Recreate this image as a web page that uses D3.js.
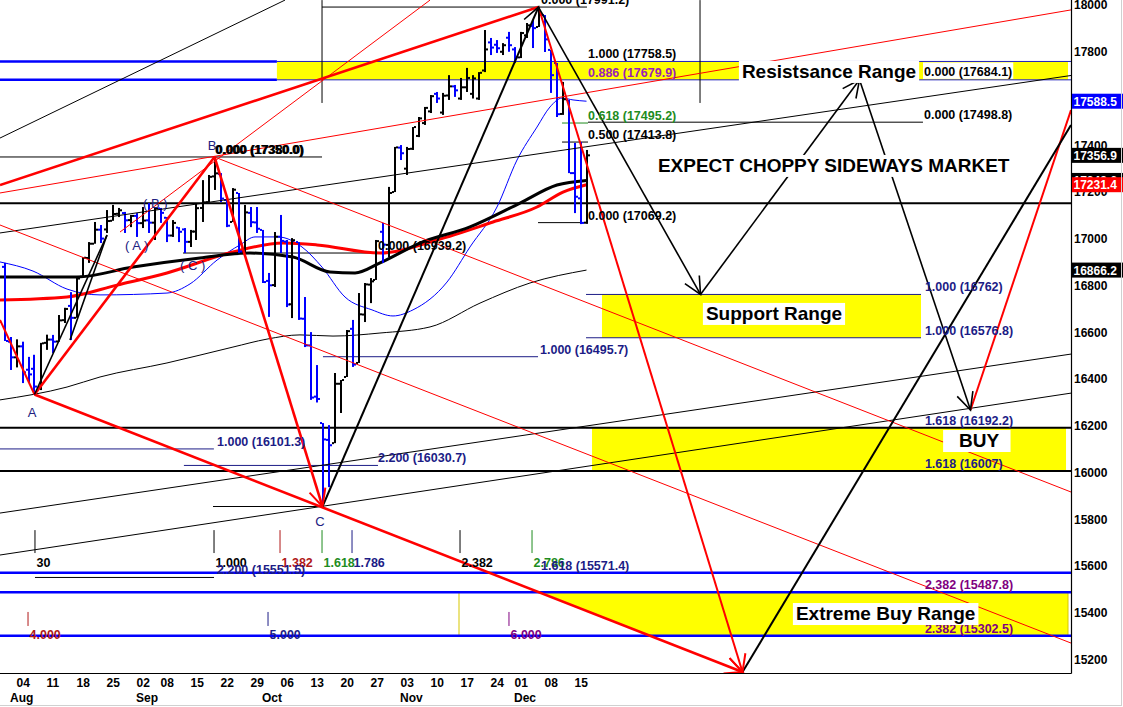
<!DOCTYPE html>
<html><head><meta charset="utf-8">
<script src="https://cdn.jsdelivr.net/npm/d3@7/dist/d3.min.js"></script>
<style>
html,body{margin:0;padding:0;background:#fff}
svg{display:block}
text{font-family:"Liberation Sans",Arial,Helvetica,sans-serif}
</style></head><body>
<svg id="chart" width="1123" height="707"></svg>
<script>
// ---------------- DATA ----------------
const dates=["07-31","08-01",
"08-04","08-05","08-06","08-07","08-08","08-11","08-12","08-13","08-14","08-15",
"08-18","08-19","08-20","08-21","08-22","08-25","08-26","08-27","08-28","08-29",
"09-02","09-03","09-04","09-05","09-08","09-09","09-10","09-11","09-12",
"09-15","09-16","09-17","09-18","09-19","09-22","09-23","09-24","09-25","09-26",
"09-29","09-30","10-01","10-02","10-03","10-06","10-07","10-08","10-09","10-10",
"10-13","10-14","10-15","10-16","10-17","10-20","10-21","10-22","10-23","10-24",
"10-27","10-28","10-29","10-30","10-31","11-03","11-04","11-05","11-06","11-07",
"11-10","11-11","11-12","11-13","11-14","11-17","11-18","11-19","11-20","11-21",
"11-24","11-25","11-26","11-28","12-01","12-02","12-03","12-04","12-05",
"12-08","12-09","12-10","12-11","12-12","12-15","12-16","12-17"];
const indexOffset=-2; // Aug 04 = index 0
const opens=[16880,16560,16493,16540,16440,16444,16368,16555,16569,16561,
16652,16713,16662,16838,16918,16979,17039,17040,17077,17107,
17110,17080,17098,17067,17079,17069,17130,17090,17014,17048,
17040,16987,17031,17132,17157,17267,17277,17166,17072,17196,
16947,17111,17070,17038,16820,16802,17009,16988,16720,16986,
16658,16544,16325,16212,16140,16126,16380,16409,16615,16469,
16676,16804,16824,17030,16974,17200,17390,17300,17385,17440,
17495,17545,17620,17540,17613,17652,17600,17648,17620,17600,
17720,17840,17830,17800,17860,17810,17776,17870,17910,17906,
17957,17808,17752,17534,17594,17281,17173,17069];
const highs=[16897,16580,16570,16560,16495,16504,16555,16590,16589,16674,
16705,16772,16837,16922,16986,17072,17059,17123,17145,17132,
17115,17102,17110,17136,17153,17136,17132,17093,17080,17050,
17046,17038,17153,17251,17273,17350,17281,17166,17217,17196,
17145,17136,17136,17038,16854,17029,17102,16995,17003,16986,
16751,16601,16460,16212,16203,16426,16396,16610,16653,16768,
16811,16832,16995,17068,17222,17393,17401,17393,17478,17521,
17564,17615,17628,17624,17700,17658,17688,17731,17700,17713,
17893,17859,17850,17837,17885,17820,17885,17923,17936,17991,
17957,17808,17752,17671,17594,17410,17414,17380];
const lows=[16563,16439,16450,16383,16383,16334,16353,16525,16511,16560,
16640,16567,16662,16837,16897,16979,16982,17025,17077,17093,
17025,17050,17008,17046,17025,16995,17068,16986,17008,16986,
16939,16965,16995,17072,17157,17209,17157,17050,17072,16939,
16939,17050,17025,16811,16666,16794,16939,16708,16661,16653,
16537,16311,16300,15855,15938,16126,16255,16409,16452,16469,
16644,16725,16824,16897,16922,17200,17337,17273,17380,17435,
17487,17538,17581,17530,17594,17607,17594,17628,17600,17594,
17713,17786,17795,17786,17800,17752,17773,17859,17816,17906,
17799,17624,17521,17530,17281,17110,17063,17064];
const closes=[16563,16493,16540,16429,16420,16368,16553,16569,16560,16651,
16700,16662,16830,16919,16979,17039,17001,17076,17106,17122,
17079,17098,17067,17078,17069,17130,17111,17014,17068,17030,
16987,17031,17131,17156,17265,17280,17172,17056,17210,16946,
17113,17071,17043,16815,16801,17009,16991,16719,16994,16659,
16544,16321,16315,16142,16117,16380,16396,16605,16462,16677,
16805,16818,16990,16975,17196,17391,17366,17384,17478,17515,
17560,17610,17600,17612,17652,17635,17648,17688,17686,17710,
17810,17818,17815,17828,17828,17776,17880,17913,17901,17959,
17853,17700,17533,17597,17281,17180,17068,17357];

const weekTicks=["08-04","08-11","08-18","08-25","09-02","09-08","09-15","09-22","09-29","10-06",
"10-13","10-20","10-27","11-03","11-10","11-17","11-24","12-01","12-08","12-15"];
const monthStarts=["08-01","09-02","10-01","11-03","12-01"];
const monthNames=["Aug","Sep","Oct","Nov","Dec"];
const yTicks=[15200,15400,15600,15800,16000,16200,16400,16600,16800,17000,17200,17400,17600,17800,18000];

// moving averages [index, value]
const maBlue=[[-2.75,16901],[2.75,16862],[8.42,16785],[13.92,16760],[25.08,16768],[28.92,16807],[33.42,16909],[37.25,16974],[39.75,17008],[43.58,17008],[47.58,16965],[50.92,16879],[54.75,16751],[59.25,16696],[62.75,16670],[66.08,16696],[71.75,16815],[75.58,16965],[80.08,17136],[83.42,17337],[86.75,17478],[88.92,17564],[90.92,17602],[92.75,17594],[95,17588.5]];
const maBlackThick=[[-2.75,16837],[10.08,16837],[19.42,16879],[30.58,16918],[38.92,16939],[46.08,16922],[52.25,16858],[56.42,16854],[60.58,16897],[67.25,16982],[75.58,17051],[83.92,17153],[90.08,17230],[95,17249.6]];
const maRed=[[-2.75,16738],[8.42,16751],[16.75,16802],[25.08,16854],[36.08,16944],[44.42,16982],[50.08,16974],[60.58,16939],[70.08,16995],[79.42,17072],[86.75,17136],[91.08,17200],[95,17231.4]];
const maBlackThin=[[-2.75,16311],[8.42,16366],[13.92,16409],[25.08,16469],[36.08,16537],[41.75,16571],[47.25,16589],[52.75,16584],[60.58,16597],[68.92,16623],[77.25,16725],[85.58,16811],[95,16866.2]];
const lastValues=[17588.5,17356.9,17249.6,17231.4,16866.2];
const lastValueKeys=["b","k","k","red","k"];

// pivots [index, price]
const pA=[3,16334], pB=[33,17350], pC=[51,15855], pP=[87,17991.2];
const pT1=[114,16762], pT2=[140.5,17680], pT3=[159,16268], pQ=[121,15147];
const lineRedThick=[[pA,pB],[pB,pC],[pA,pQ],[[-2.75,17230],pP]];
const lineRedMed=[[[-2.75,16653],pA],[pP,pQ],[pT3,[175.75,17551]]];
const lineRedThin=[[[-2.75,17196],[175.75,17979]],[[-2.75,17059],[175.75,15271]],[pB,[175.75,15917]],[[17.25,17029],[68.92,18021]]];
const lineBlackThick=[[pC,pP],[pQ,[175.75,17487]]];
const lineBlackMed=[[pP,pT1],[pT1,pT2],[pT2,pT3],[pA,[15.08,17016]],[[8.92,16567],[15.08,17016]]];
const lineBlackThin=[[[-2.75,17431],[44.75,18021]],[[-2.75,17025],[175.75,17698.5]],[[-2.75,15827],[175.75,16507]],[[-2.75,15647.5],[175.75,16340]]];
const arrowsK=[[pC,pP],[pP,pT1],[pT1,pT2],[pT2,pT3]];
const arrowsR=[[pB,pC],[pA,pQ],[pP,pQ]];

// horizontal levels
const hBlackThick=[17152,16192.2,16007];
const hBlueThick=[15571.4,15487.8,15302.5];
const hResLeft=[17758.5,17679.9];
const fibSegs=[ // value, from, to, color
[17991.2,50.92,95.08,"k"],[17350,-2.75,50.92,"k"],[16939.2,27.75,60.25,"k"],[15855,32.75,50.92,"k"],
[17069.2,86.92,95.25,"k"],[17413.8,90.92,95.25,"k"],[17498.8,95.25,151.08,"k"],[15551.5,3.08,32.92,"k"],
[17495.2,90.92,95.25,"g"],
[16101.3,-2.75,32.9,"n"],[16030.7,27.9,60.25,"n"],[16495.7,51.08,86.92,"n"],
[16762,94.92,150.75,"n"],[16576.8,94.92,150.75,"n"],[16192.2,94.92,151.08,"n"]];
const vLines=[[50.92,17581,18021],[113.92,17581,18021]];

// bands [low, high, from, to]
const bandRes=[17679.9,17758.5,43.4,175.25];
const bandSup=[16576.8,16762,97.58,150.75];
const bandBuy=[16007,16192.2,95.92,174.92];
const bandExt=[15302.5,15487.8,73.75,175.25];

const fibLabels=[
["0.000 (17991.2)",87.42,17991.2,"k"],["1.000 (17758.5)",95.25,17758.5,"k"],["0.886 (17679.9)",95.25,17679.9,"v"],
["0.618 (17495.2)",95.25,17495.2,"g"],["0.500 (17413.8)",95.25,17413.8,"k"],["0.000 (17069.2)",95.25,17069.2,"k"],
["0.000 (17498.8)",151.25,17498.8,"k"],
["1.000 (16762)",151.4,16762,"n"],["1.000 (16576.8)",151.4,16576.8,"n"],["1.618 (16192.2)",151.4,16192.2,"n"],
["1.618 (16007)",151.4,16007,"n"],["2.382 (15487.8)",151.4,15487.8,"p"],["2.382 (15302.5)",151.4,15302.5,"p"],
["1.000 (16495.7)",87.25,16495.7,"n"],["0.000 (16939.2)",60.25,16939.2,"k"],["1.000 (16101.3)",33.42,16101.3,"n"],
["2.200 (16030.7)",60.25,16030.7,"n"],["0.000 (17350.0)",33.08,17350,"k"],["0.000 (17380.0)",33.25,17350,"k"],
["1.618 (15571.4)",87.42,15571.4,"n"],["2.200 (15551.5)",33.42,15551.5,"n"]];
const whiteFibLabel=["0.000 (17684.1)",151.25,17684.1];

const timeMarks=[["30",3.08,1,"k"],["1.000",32.92,1,"k"],["1.382",43.92,1,"r"],["1.618",50.92,1,"g"],["1.786",55.92,1,"n"],
["2.382",73.92,1,"k"],["2.786",85.92,1,"g"],["4.000",1.92,2,"r"],["5.000",41.92,2,"n"],["6.000",82.08,2,"p"]];
const timeRows={1:[15754,15656],2:[15404,15344]};

const pointLabels=[["A",pA],["B",pB],["C",pC]];
const waveLabels=[["( A )",18.1,16952],["( B )",21.1,17132],["( C )",27.25,16867]];
const boxLabels=[["Resistsance Range",120.9,17688],["EXPECT CHOPPY SIDEWAYS MARKET",106.9,17286],
["Support Range",114.9,16653],["BUY",157.1,16109.5],["Extreme Buy Range",129.9,15369.5]];

// ---------------- DRAW ----------------
const COL={k:"#000",n:"#1c1c86",r:"#b01818",g:"#1e8c1e",p:"#800080",v:"#9a22b8",b:"#0000ff",red:"#ff0000"};
const FONT='"Liberation Sans",Arial,Helvetica,sans-serif';
const svg=d3.select("#chart");
const X=d3.scaleLinear().domain([-2.75,175.75]).range([0,1071]);
const Y=d3.scaleLinear().domain([15142.9,18021.4]).range([673,0]);
const P=p=>[X(p[0]),Y(p[1])];
svg.append("rect").attr("width",1123).attr("height",707).attr("fill","#fff");
svg.append("defs").append("clipPath").attr("id","plot").append("rect").attr("width",1071).attr("height",673);
const plot=svg.append("g").attr("clip-path","url(#plot)");

function seg(g,a,b,color,w){
  g.append("line").attr("x1",X(a[0])).attr("y1",Y(a[1])).attr("x2",X(b[0])).attr("y2",Y(b[1]))
   .attr("stroke",color).attr("stroke-width",w);
}
function rectBand(g,b,fill){
  g.append("rect").attr("x",X(b[2])).attr("y",Y(b[1])).attr("width",X(b[3])-X(b[2]))
   .attr("height",Y(b[0])-Y(b[1])).attr("fill",fill);
}
// bands
const gB=plot.append("g");
rectBand(gB,bandRes,"#ffff00");
rectBand(gB,bandSup,"#ffff00");
rectBand(gB,bandBuy,"#ffff00");
// extreme band: yellow right of the A->Q line
const slopeAQ=(pQ[1]-pA[1])/(pQ[0]-pA[0]);
const crossAt=v=>pA[0]+(v-pA[1])/slopeAQ;
gB.append("path").attr("fill","#ffff00").attr("d",d3.line()([
  [X(crossAt(bandExt[1])),Y(bandExt[1])],[X(bandExt[3]),Y(bandExt[1])],
  [X(bandExt[3]),Y(bandExt[0])],[X(crossAt(bandExt[0])),Y(bandExt[0])]]));
gB.append("rect").attr("x",X(bandExt[2])).attr("y",Y(bandExt[1])).attr("width",X(bandExt[3])-X(bandExt[2]))
  .attr("height",Y(bandExt[0])-Y(bandExt[1])).attr("fill","none").attr("stroke","#d8c800").attr("stroke-width",1);

// horizontal lines
const gH=plot.append("g");
fibSegs.forEach(s=>seg(gH,[s[1],s[0]],[s[2],s[0]],COL[s[3]],1));
[bandRes[0],bandRes[1]].forEach(v=>seg(gH,[bandRes[2],v],[175.75,v],"#2020c0",1));
hResLeft.forEach(v=>seg(gH,[-2.75,v],[bandRes[2],v],"#0000ff",2.5));
hBlackThick.forEach(v=>seg(gH,[-2.75,v],[175.75,v],"#000",2));
hBlueThick.forEach(v=>seg(gH,[-2.75,v],[175.75,v],"#0000ff",2.5));
vLines.forEach(v=>seg(gH,[v[0],v[1]],[v[0],v[2]],"#000",1));

// moving averages
const lineGen=d3.line().x(d=>X(d[0])).y(d=>Y(d[1])).curve(d3.curveMonotoneX);
const gM=plot.append("g").attr("fill","none");
gM.append("path").attr("d",lineGen(maBlackThin)).attr("stroke","#000").attr("stroke-width",1);
gM.append("path").attr("d",lineGen(maBlue)).attr("stroke","#0000ff").attr("stroke-width",1);
gM.append("path").attr("d",lineGen(maRed)).attr("stroke","#ff0000").attr("stroke-width",3);
gM.append("path").attr("d",lineGen(maBlackThick)).attr("stroke","#000").attr("stroke-width",3);

// OHLC bars
const gP=plot.append("g");
dates.forEach((d,k)=>{
  const i=k+indexOffset, x=Math.round(X(i)), col=closes[k]<opens[k]?"#0000ff":"#000";
  gP.append("rect").attr("x",x-1).attr("y",Y(highs[k])).attr("width",2).attr("height",Math.max(1,Y(lows[k])-Y(highs[k]))).attr("fill",col);
  gP.append("rect").attr("x",x-3).attr("y",Y(opens[k])-1).attr("width",2).attr("height",2).attr("fill",col);
  gP.append("rect").attr("x",x+1).attr("y",Y(closes[k])-1).attr("width",2).attr("height",2).attr("fill",col);
});

// trend lines
const gT=plot.append("g");
lineBlackThin.forEach(l=>seg(gT,l[0],l[1],"#000",1));
lineRedThin.forEach(l=>seg(gT,l[0],l[1],"#ff0000",1));
lineRedThick.forEach(l=>seg(gT,l[0],l[1],"#ff0000",2.6));
lineRedMed.forEach(l=>seg(gT,l[0],l[1],"#ff0000",2));
lineBlackThick.forEach(l=>seg(gT,l[0],l[1],"#000",2));
lineBlackMed.forEach(l=>seg(gT,l[0],l[1],"#000",1.6));
function arrow(a,b,color,w){
  const [x1,y1]=P(a),[x2,y2]=P(b),ang=Math.atan2(y1-y2,x1-x2),L=19,s=0.45;
  gT.append("path").attr("fill","none").attr("stroke",color).attr("stroke-width",w)
   .attr("d",d3.line()([[x2+L*Math.cos(ang+s),y2+L*Math.sin(ang+s)],[x2,y2],[x2+L*Math.cos(ang-s),y2+L*Math.sin(ang-s)]]));
}
arrowsK.forEach(a=>arrow(a[0],a[1],"#000",1.6));
arrowsR.forEach(a=>arrow(a[0],a[1],"#ff0000",2));

// time markers
const gTm=plot.append("g").attr("font-size",12.5).attr("font-weight","bold").attr("font-family",FONT);
timeMarks.forEach(t=>{
  const r=timeRows[t[2]], x=X(t[1]);
  seg(gTm,[t[1],r[0]],[t[1],r[1]],COL[t[3]],1);
  gTm.append("text").attr("x",x+1.5).attr("y",Y(r[1])+13.5).attr("fill",COL[t[3]]).text(t[0]);
});

// fib labels
const gL=plot.append("g").attr("font-family",FONT);
fibLabels.forEach(f=>gL.append("text").attr("x",X(f[1])).attr("y",Y(f[2])-3).attr("font-size",12.5)
  .attr("font-weight","bold").attr("fill",COL[f[3]]).text(f[0]));
{
  const t=gL.append("text").attr("x",X(whiteFibLabel[1])).attr("y",Y(whiteFibLabel[2])-3).attr("font-size",12.5)
    .attr("font-weight","bold").attr("fill","#000").text(whiteFibLabel[0]);
  const bb=t.node().getBBox();
  gL.insert("rect",()=>t.node()).attr("x",bb.x-1).attr("y",Y(bandRes[1])+1).attr("width",bb.width+2)
    .attr("height",Y(bandRes[0])-Y(bandRes[1])-2).attr("fill","#fff");
}
pointLabels.forEach(p=>{
  const off={A:[-2.5,22.5],B:[-2.5,-7],C:[-2.5,19.5]}[p[0]];
  gL.append("text").attr("x",X(p[1][0])+off[0]).attr("y",Y(p[1][1])+off[1]).attr("text-anchor","middle")
   .attr("font-size",13).attr("fill","#202080").text(p[0]);
});
waveLabels.forEach(w=>gL.append("text").attr("x",X(w[1])).attr("y",Y(w[2])).attr("font-size",13)
  .attr("fill","#202080").text(w[0]));
boxLabels.forEach(b=>{
  const t=gL.append("text").attr("x",X(b[1])).attr("y",Y(b[2])).attr("font-size",19).attr("font-weight","bold")
    .attr("fill","#000").text(b[0]);
  const bb=t.node().getBBox();
  const pad=b[0]==="BUY"?[16,11]:[3,3];
  gL.insert("rect",()=>t.node()).attr("x",bb.x-pad[0]).attr("y",bb.y).attr("width",bb.width+pad[0]+pad[1])
    .attr("height",bb.height+1).attr("fill","#fff");
});

// axes
const gY=svg.append("g").attr("transform","translate(1071,0)")
  .call(d3.axisRight(Y).tickValues(yTicks).tickSize(0).tickPadding(3).tickFormat(d3.format("d")));
gY.select(".domain").remove();
gY.attr("font-family",FONT).selectAll("text").attr("font-size",12).attr("font-weight","bold").attr("fill","#000");
const tickIdx=weekTicks.map(d=>dates.indexOf(d)+indexOffset);
const gX=svg.append("g").attr("transform","translate(0,673)")
  .call(d3.axisBottom(X).tickValues(tickIdx).tickSize(0).tickPadding(5.5).tickFormat(i=>dates[i-indexOffset].slice(3)));
gX.select(".domain").remove();
gX.attr("font-family",FONT).selectAll("text").attr("font-size",12).attr("font-weight","bold").attr("fill","#000")
  .attr("text-anchor","start").attr("x",-0.5);
const gMo=svg.append("g").attr("font-family",FONT).attr("font-size",12).attr("font-weight","bold");
monthStarts.forEach((m,j)=>gMo.append("text").attr("x",X(dates.indexOf(m)+indexOffset)-0.5).attr("y",702).text(monthNames[j]));
svg.append("line").attr("x1",1071.5).attr("x2",1071.5).attr("y1",0).attr("y2",673.5).attr("stroke","#000").attr("stroke-width",1.2);
svg.append("line").attr("x1",0).attr("x2",1071.5).attr("y1",673.5).attr("y2",673.5).attr("stroke","#000").attr("stroke-width",1.2);

// last value boxes
const gV=svg.append("g").attr("font-family",FONT);
lastValues.forEach((v,j)=>{
  const yy=Y(v);
  gV.append("rect").attr("x",1072).attr("y",yy-7.5).attr("width",51).attr("height",15).attr("fill",COL[lastValueKeys[j]]);
  gV.append("text").attr("x",1073.5).attr("y",yy+4.5).attr("font-size",12).attr("font-weight","bold").attr("fill","#fff").text(v.toFixed(1));
});
// outer light frame
svg.append("line").attr("x1",1121.5).attr("x2",1121.5).attr("y1",0).attr("y2",706).attr("stroke","#d0d0d0");
svg.append("line").attr("x1",0).attr("x2",1122).attr("y1",705.5).attr("y2",705.5).attr("stroke","#d0d0d0");
</script></body></html>
